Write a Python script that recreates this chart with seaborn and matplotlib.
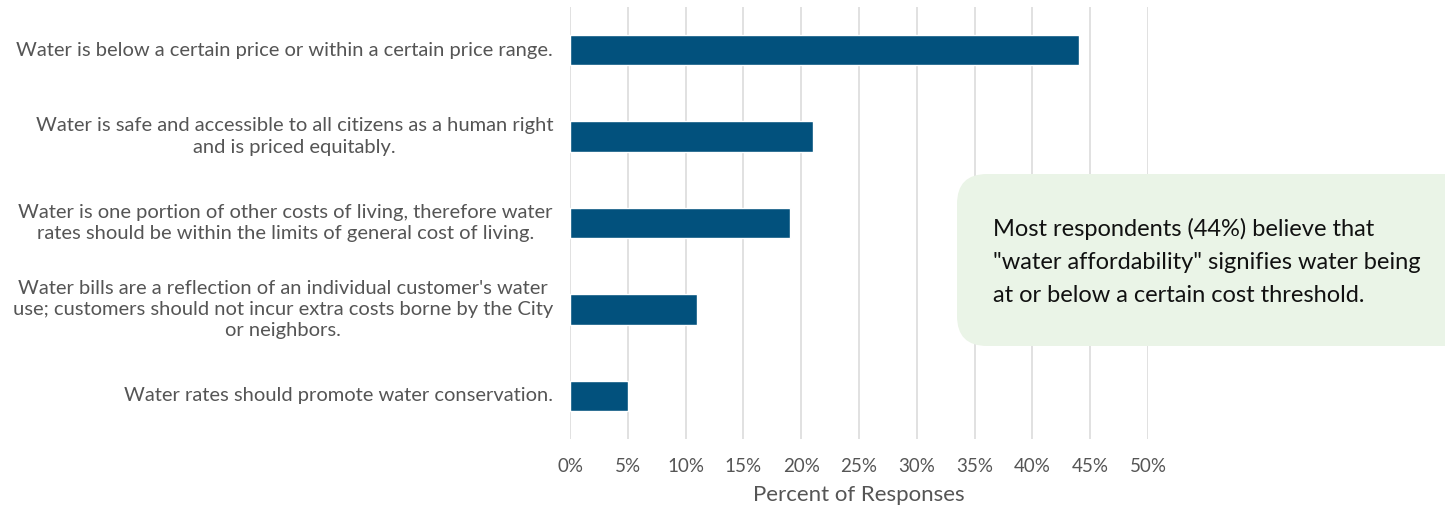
import numpy as np
import pandas as pd
import matplotlib.pyplot as plt
import matplotlib.transforms as mtransforms
import seaborn as sns
from matplotlib.patches import FancyBboxPatch
from matplotlib.ticker import FuncFormatter

# Survey responses
statements = [
    "Water is below a certain price or within a certain price range.",
    "Water is safe and accessible to all citizens as a human right\nand is priced equitably.",
    "Water is one portion of other costs of living, therefore water\nrates should be within the limits of general cost of living.",
    "Water bills are a reflection of an individual customer's water\nuse; customers should not incur extra costs borne by the City\nor neighbors.",
    "Water rates should promote water conservation.",
]
percents = [44, 21, 19, 11, 5]
note = ('Most respondents (44%) believe that\n'
        '"water affordability" signifies water being\n'
        'at or below a certain cost threshold.')

df = pd.DataFrame({"statement": statements, "percent": percents})

sns.set_theme(style="white")
plt.rcParams['font.family'] = ['Lato', 'DejaVu Sans']

fig = plt.figure(figsize=(14.45, 5.14), dpi=100)
ax = fig.add_axes([570 / 1445, 1 - 439 / 514, (1148 - 570) / 1445, 432 / 514])

sns.barplot(data=df, x="percent", y="statement", color="#02517d", saturation=1,
            width=0.35, orient="h", ax=ax, zorder=3)

ax.set_xlim(0, 50)
ax.set_ylim(4.5, -0.5)
ax.set_xticks(np.arange(0, 51, 5))
ax.xaxis.set_major_formatter(FuncFormatter(lambda v, p: f"{int(v)}%"))
ax.grid(axis="x", color="#dcdcdc", linewidth=1.2, zorder=0)
ax.grid(axis="y", visible=False)
for s in ax.spines.values():
    s.set_visible(False)
ax.tick_params(axis="both", length=0, labelcolor="#555555")
ax.tick_params(axis="x", labelsize=13.5, pad=14)
ax.tick_params(axis="y", labelleft=False)
ax.set_ylabel("")
ax.set_xlabel("Percent of Responses", fontsize=16, color="#555555", labelpad=7)

# category labels: right-aligned block, centred lines
lab_trans = ax.get_yaxis_transform() + mtransforms.ScaledTranslation(-17 / 100, 0, fig.dpi_scale_trans)
for i, s in enumerate(statements):
    ax.text(0, i, s, transform=lab_trans, ha="right", va="center",
            multialignment="center", linespacing=1.3, fontsize=14.5,
            color="#555555")

# annotation box
box = FancyBboxPatch((9.57, 1.68), 5.2, 1.72,
                     boxstyle="round,pad=0,rounding_size=0.3",
                     transform=fig.dpi_scale_trans, facecolor="#eaf4e7",
                     edgecolor="none", clip_on=False)
fig.patches.append(box)
fig.text(9.93, 2.52, note, transform=fig.dpi_scale_trans, fontsize=17,
         color="#111111", va="center", ha="left", linespacing=1.7)

fig.savefig("out.png", dpi=100)
